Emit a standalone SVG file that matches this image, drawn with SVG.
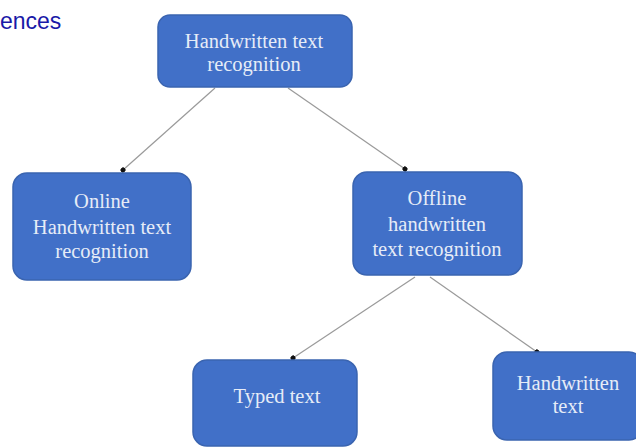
<svg xmlns="http://www.w3.org/2000/svg" width="636" height="447" viewBox="0 0 636 447">
<defs>
<style>
.node rect{fill:#4170c8;stroke:#3a64b0;stroke-width:1.5}
.node text{font-family:"Liberation Serif","Times New Roman",serif;font-size:20.5px;fill:#e6ecf7;text-anchor:middle}
.edge{stroke:#9a9a9a;stroke-width:1.2;fill:none;marker-end:url(#dot)}
</style>
<marker id="dot" viewBox="0 0 10 10" refX="5" refY="5" markerWidth="5" markerHeight="5" markerUnits="userSpaceOnUse" orient="auto">
<circle cx="5" cy="5" r="5" fill="#111"/>
</marker>
</defs>
<rect width="636" height="447" fill="#ffffff"/>
<text x="0" y="29" font-family="Liberation Sans,Arial,sans-serif" font-size="23" fill="#1a1aa8">ences</text>
<g id="connectors">
<line class="edge" x1="215" y1="88" x2="123" y2="170"/>
<line class="edge" x1="288" y1="88" x2="405" y2="169"/>
<line class="edge" x1="415" y1="277" x2="293" y2="358"/>
<line class="edge" x1="430" y1="277" x2="537" y2="352"/>
</g>
<g id="n-root" class="node">
<rect x="158" y="15" width="194" height="72" rx="12"/>
<text x="254" y="48">Handwritten text</text>
<text x="254" y="71">recognition</text>
</g>
<g id="n-online" class="node">
<rect x="13" y="173" width="178" height="107" rx="14"/>
<text x="102" y="208">Online</text>
<text x="102" y="234">Handwritten text</text>
<text x="102" y="258">recognition</text>
</g>
<g id="n-offline" class="node">
<rect x="353" y="172" width="169" height="103" rx="14"/>
<text x="437" y="205">Offline</text>
<text x="437" y="231">handwritten</text>
<text x="437" y="256">text recognition</text>
</g>
<g id="n-typed" class="node">
<rect x="193" y="360" width="164" height="86" rx="14"/>
<text x="277" y="403">Typed text</text>
</g>
<g id="n-hw" class="node">
<rect x="493" y="352" width="150" height="88" rx="14"/>
<text x="568" y="390">Handwritten</text>
<text x="568" y="413">text</text>
</g>
</svg>
